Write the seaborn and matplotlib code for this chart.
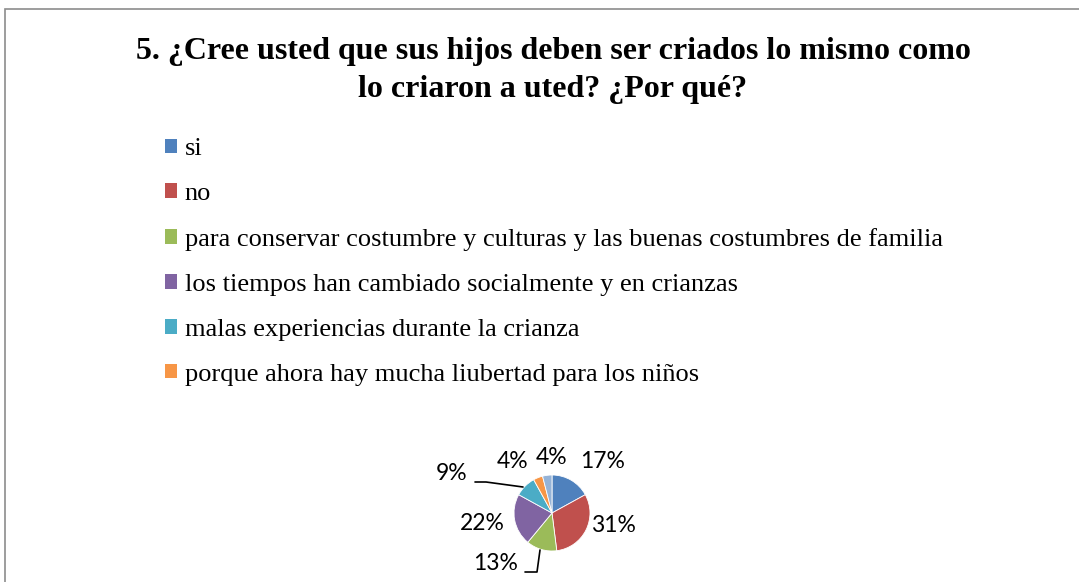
import matplotlib
matplotlib.use("Agg")
import matplotlib.pyplot as plt
import seaborn as sns
from matplotlib.patches import Patch, Rectangle
from matplotlib.lines import Line2D

# ---------------- data ----------------
title = "5. ¿Cree usted que sus hijos deben ser criados lo mismo como\nlo criaron a uted? ¿Por qué?"
categories = [
    "si",
    "no",
    "para conservar costumbre y culturas y las buenas costumbres de familia",
    "los tiempos han cambiado socialmente y en crianzas",
    "malas experiencias durante la crianza",
    "porque ahora hay mucha liubertad para los niños",
    "",
]
values = [17, 31, 13, 22, 9, 4, 4]
colors = ["#4F81BD", "#C0504D", "#9BBB59", "#8064A2", "#4BACC6", "#F79646", "#95B3D7"]

# ---------------- style ----------------
sns.set_theme(style="white")
plt.rcParams['font.family'] = ['Lato', 'DejaVu Sans']
plt.rcParams['text.color'] = 'black'
palette = sns.color_palette(colors)

W, H = 1079, 582
fig = plt.figure(figsize=(W / 100, H / 100), dpi=100)
fig.patch.set_facecolor("white")

def fy(y):
    return H - y

# chart border (partially visible)
fig.patches.append(Rectangle((5, fy(700)), 1200, 700 - 9, transform=None,
                             fill=False, edgecolor="#8c8c8c", linewidth=1.2))

ax = fig.add_axes([0, 0, 1, 1])
total = sum(values)
wedges, _ = ax.pie(values, colors=palette, startangle=90, counterclock=False,
                   center=(552, fy(513)), radius=38,
                   wedgeprops=dict(linewidth=0.6, edgecolor="white"))
ax.set_xlim(0, W)
ax.set_ylim(0, H)
ax.set_aspect("equal")
ax.axis("off")

# percentage labels (positions as in the reference layout)
label_pos = [(603, 462), (613, 525), (496, 564), (482, 523), (452, 473), (513, 461), (552, 458)]
for v, (x, y) in zip(values, label_pos):
    ax.text(x, fy(y), f"{round(100 * v / total)}%", ha="center", va="center",
            fontsize=16.5, color="black")

# leader lines
ax.add_line(Line2D([475, 486, 523], [fy(482), fy(482), fy(487)], color="black", linewidth=1.2))
ax.add_line(Line2D([525, 537, 540], [fy(572), fy(572), fy(550)], color="black", linewidth=1.2))

# title
fig.text(553 / W, 1 - 70.5 / H, title, ha="center", va="center",
         family="Liberation Serif", weight="bold", fontsize=23, linespacing=1.42,
         color="black")

# legend
handles = [Patch(facecolor=palette[i], edgecolor="none") for i in range(6)]
leg = fig.legend(handles, categories[:6], loc="upper left",
                 bbox_to_anchor=(165 / W, 1 - 138 / H), frameon=False,
                 prop=dict(family="Liberation Serif", size=19),
                 handlelength=0.45, handleheight=0.45, handletextpad=0.3,
                 labelspacing=0.87, borderpad=0, borderaxespad=0)
for t in leg.get_texts():
    t.set_color("black")

fig.savefig("out.png", dpi=100, facecolor="white")
